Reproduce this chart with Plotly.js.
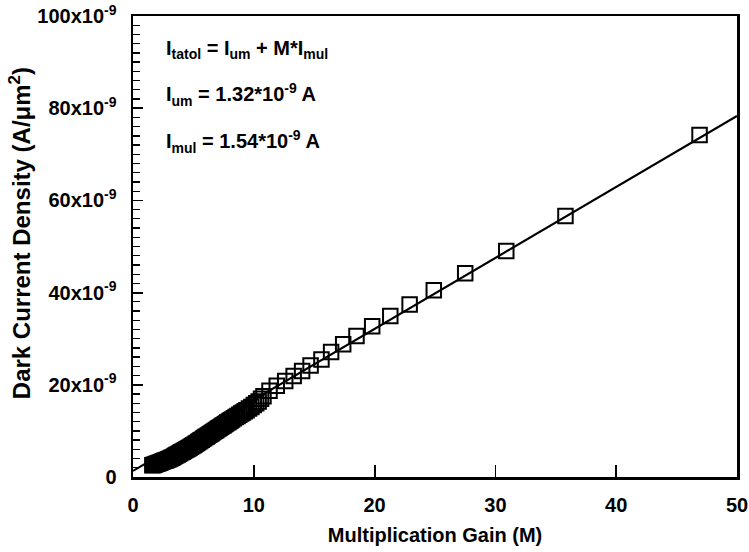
<!DOCTYPE html>
<html>
<head>
<meta charset="utf-8">
<script src="https://cdn.plot.ly/plotly-3.0.1.min.js"></script>
<style>html,body{margin:0;padding:0;background:#fff;}#chart{width:749px;height:552px;}</style>
</head>
<body>
<div id="chart"></div>
<script>
// Measured data: multiplication gain M and dark current density (units of 1e-9 A/um^2)
const gainM = [
  1.6,1.7,1.8,1.9,2.0,2.1,2.2,2.3,2.4,2.5,2.6,2.7,2.8,2.9,3.0,3.1,3.2,3.3,3.4,3.5,
  3.6,3.7,3.8,3.9,4.0,4.1,4.2,4.3,4.4,4.5,4.6,4.7,4.8,4.9,5.0,5.1,5.2,5.3,5.4,5.5,
  5.6,5.7,5.8,5.9,6.0,6.1,6.2,6.3,6.4,6.5,6.6,6.7,6.8,6.9,7.0,7.1,7.2,7.3,7.4,7.5,
  7.6,7.7,7.8,7.9,8.0,8.1,8.2,8.35,8.5,8.65,8.8,8.95,9.1,9.25,9.4,9.6,9.8,10.0,10.2,10.4,
  10.6,10.8,11.3,11.9,12.6,13.3,14.0,14.7,15.6,16.4,17.4,18.5,19.8,21.3,22.9,24.9,27.5,30.9,35.8,46.9
];
const darkCurrent_e9 = [
  2.55,2.6,2.7,2.8,2.9,3.0,3.1,3.2,3.3,3.4,3.5,3.6,3.7,3.8,3.9,4.0,4.15,4.3,4.45,4.6,
  4.75,4.9,5.05,5.2,5.35,5.5,5.65,5.8,5.95,6.1,6.25,6.4,6.55,6.7,6.9,7.05,7.25,7.4,7.6,7.75,
  7.95,8.1,8.3,8.45,8.65,8.8,9.0,9.15,9.35,9.5,9.7,9.85,10.05,10.2,10.4,10.55,10.75,10.9,11.1,11.25,
  11.45,11.6,11.8,11.95,12.15,12.3,12.5,12.75,13.0,13.25,13.5,13.75,14.0,14.25,14.5,14.85,15.2,15.6,16.0,16.4,
  17.0,17.5,18.7,19.8,20.8,21.9,23.0,24.2,25.5,27.1,28.8,30.6,32.7,34.9,37.4,40.5,44.2,49.0,56.6,74.2
];
// Fit line I_total = I_um + M*I_mul, endpoints
const fitM = [0, 50];
const fitI_e9 = [1.32, 78.32];
// Axis ticks
const yTickVals_e9 = [0, 20, 40, 60, 80, 100];
const yTickText = ["0", "20x10<sup>-9</sup>", "40x10<sup>-9</sup>", "60x10<sup>-9</sup>", "80x10<sup>-9</sup>", "100x10<sup>-9</sup>"];
const xTickVals = [0, 10, 20, 30, 40, 50];
const xTitle = "Multiplication Gain (M)";
const yTitle = "Dark Current Density (A/\u03bcm<sup>2</sup>)";
const annotationLines = [
  "I<sub>tatol</sub> = I<sub>um</sub> + M*I<sub>mul</sub>",
  "I<sub>um</sub> = 1.32*10<sup>-9</sup> A",
  "I<sub>mul</sub> = 1.54*10<sup>-9</sup> A"
];

const e9 = v => v * 1e-9;
const fam = "Liberation Sans, Arial, sans-serif";
const font = {family: fam, size: 20, color: "#000", weight: "bold"};

const traces = [
  {
    x: fitM, y: fitI_e9.map(e9), mode: "lines", type: "scatter",
    line: {color: "#000", width: 2.2}, hoverinfo: "skip", showlegend: false
  },
  {
    x: gainM, y: darkCurrent_e9.map(e9), mode: "markers", type: "scatter",
    marker: {symbol: "square-open", size: 14.5, color: "#000", line: {width: 2, color: "#000"}},
    showlegend: false
  }
];

const layout = {
  width: 749, height: 552,
  margin: {l: 133, r: 12, t: 16, b: 75},
  paper_bgcolor: "#fff", plot_bgcolor: "#fff",
  font: font,
  showlegend: false,
  xaxis: {
    range: [0, 50], tickvals: xTickVals, ticktext: xTickVals.map(String),
    ticks: "inside", ticklen: 12, tickwidth: 1.8, tickcolor: "#000",
    ticklabelstandoff: 8,
    showline: true, linewidth: 2.5, linecolor: "#000", mirror: true,
    showgrid: false, zeroline: false,
    tickfont: font,
    title: {text: xTitle, font: font, standoff: 14}
  },
  yaxis: {
    range: [0, 100e-9], tickvals: yTickVals_e9.map(e9), ticktext: yTickText,
    ticks: "inside", ticklen: 10, tickwidth: 1.8, tickcolor: "#000",
    ticklabelstandoff: 10,
    minor: {dtick: 2e-9, ticks: "inside", ticklen: 7, tickwidth: 1.3, tickcolor: "#000", showgrid: false},
    showline: true, linewidth: 2.5, linecolor: "#000", mirror: true,
    showgrid: false, zeroline: false,
    tickfont: font
  },
  annotations: [
    {
      text: yTitle, xref: "paper", yref: "paper", x: -0.187, y: 0.529,
      xanchor: "center", yanchor: "middle", textangle: -90, showarrow: false,
      font: {family: fam, size: 24, color: "#000", weight: "bold"}
    }
  ].concat(annotationLines.map((t, i) => ({
    text: t, xref: "paper", yref: "paper", x: 0.052, y: [0.928, 0.83, 0.728][i],
    xanchor: "left", yanchor: "middle", showarrow: false,
    font: {family: fam, size: 20, color: "#000", weight: "bold"}
  })))
};

Plotly.newPlot("chart", traces, layout, {staticPlot: true, displayModeBar: false});
</script>
</body>
</html>
